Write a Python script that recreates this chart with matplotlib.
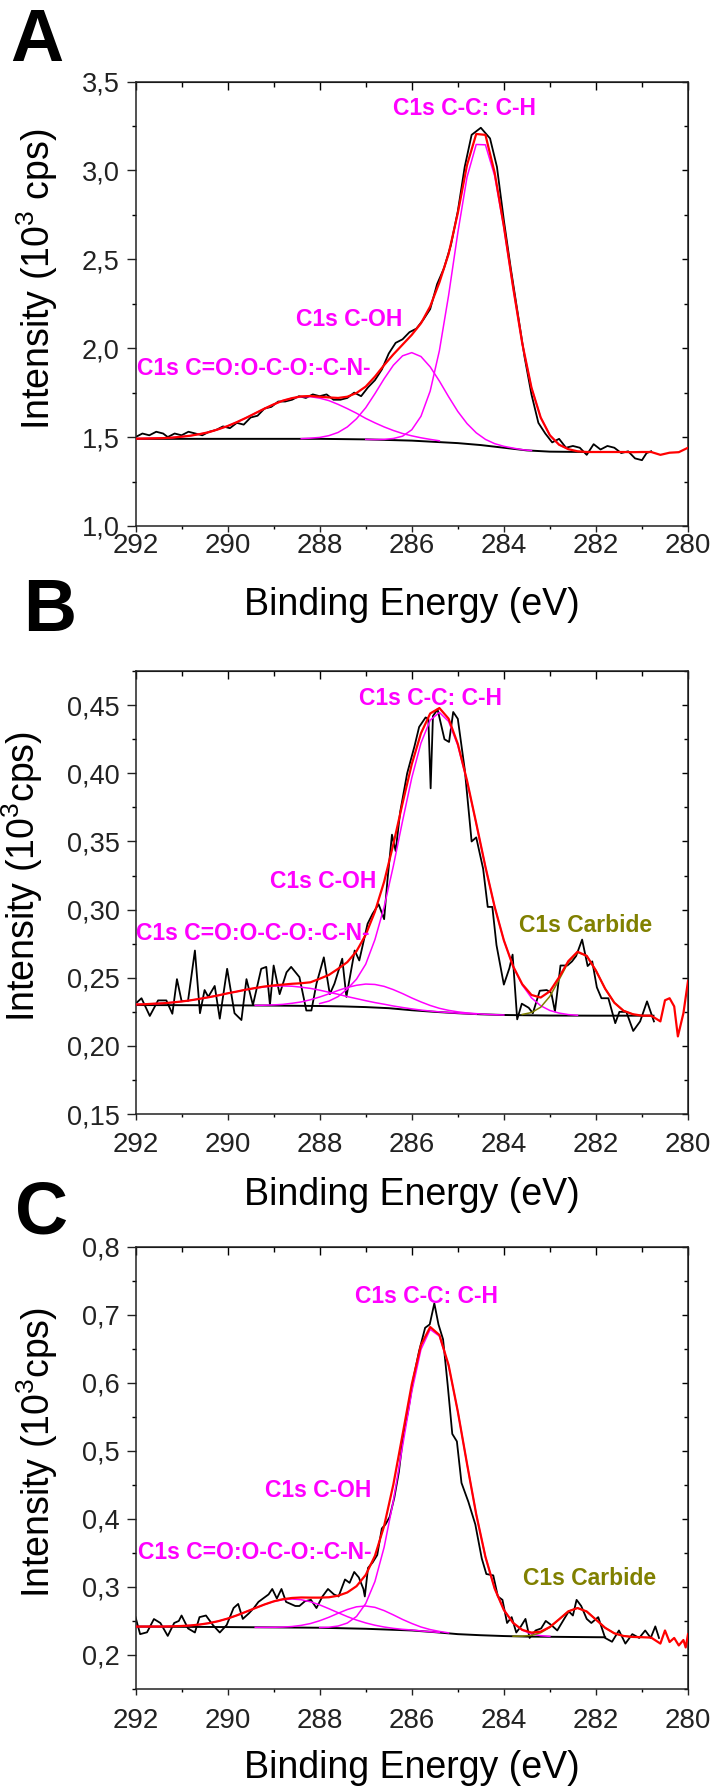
import numpy as np
import matplotlib
matplotlib.use('Agg')
import matplotlib.pyplot as plt
from matplotlib.ticker import MultipleLocator, FuncFormatter

plt.rcParams['font.family'] = ['Liberation Sans', 'DejaVu Sans']
plt.rcParams['mathtext.fontset'] = 'custom'
plt.rcParams['mathtext.rm'] = 'Liberation Sans'
plt.rcParams['mathtext.it'] = 'Liberation Sans:italic'

MAG = '#FF00FF'
OLIVE = '#808000'

# energy grid of the fitted curves (0.2 eV steps, 292 -> 280)
grid = np.round(np.arange(292.0, 279.9, -0.2), 1)

# ---------------- panel A ----------------
a_raw_e = [292.0, 291.85, 291.7, 291.55, 291.4, 291.3, 291.15, 291.0, 290.85, 290.7,
           290.55, 290.4, 290.25, 290.1, 289.95, 289.8, 289.65, 289.5, 289.35, 289.2,
           289.05, 288.9, 288.75, 288.6, 288.45, 288.3, 288.15, 288.0, 287.85, 287.7,
           287.55, 287.4, 287.25, 287.1, 286.95, 286.8, 286.65, 286.5, 286.35, 286.2,
           286.05, 285.9, 285.75, 285.6, 285.45, 285.3, 285.15, 285.0, 284.85, 284.7,
           284.6, 284.5, 284.4, 284.3, 284.15, 284.0, 283.85, 283.7, 283.55, 283.4,
           283.25, 283.1, 282.95, 282.8, 282.65, 282.5, 282.35, 282.2, 282.05, 281.9,
           281.75, 281.6, 281.45, 281.3, 281.15, 281.0, 280.9, 280.8]
a_raw_i = [1.50, 1.52, 1.51, 1.53, 1.52, 1.50, 1.52, 1.51, 1.53, 1.52,
           1.51, 1.53, 1.54, 1.56, 1.55, 1.58, 1.57, 1.61, 1.62, 1.66,
           1.67, 1.70, 1.70, 1.71, 1.73, 1.72, 1.74, 1.73, 1.74, 1.71,
           1.71, 1.72, 1.75, 1.73, 1.78, 1.82, 1.88, 1.97, 2.03, 2.05,
           2.09, 2.11, 2.16, 2.22, 2.36, 2.45, 2.58, 2.77, 3.02, 3.20,
           3.22, 3.24, 3.21, 3.18, 3.02, 2.72, 2.45, 2.20, 1.95, 1.74,
           1.58, 1.52, 1.47, 1.49, 1.44, 1.45, 1.44, 1.40, 1.46, 1.43,
           1.45, 1.44, 1.41, 1.42, 1.38, 1.37, 1.41, 1.42]
a_fit = [1.491, 1.492, 1.493, 1.494, 1.497, 1.502, 1.508, 1.517, 1.528, 1.544,
         1.562, 1.584, 1.608, 1.634, 1.660, 1.684, 1.705, 1.719, 1.729, 1.731,
         1.727, 1.723, 1.720, 1.727, 1.748, 1.784, 1.840, 1.905, 1.965, 2.020,
         2.075, 2.140, 2.235, 2.370, 2.530, 2.760, 3.030, 3.205, 3.200, 2.988,
         2.687, 2.345, 2.027, 1.778, 1.610, 1.510, 1.457, 1.432, 1.420, 1.416,
         1.416, 1.416, 1.416, 1.416, 1.415, 1.416, 1.416, 1.400, 1.412, 1.415, 1.440]
a_base_e = [292, 288, 287, 286, 285, 284.5, 284, 283.5, 283, 282.2]
a_base_i = [1.490, 1.490, 1.487, 1.480, 1.466, 1.455, 1.440, 1.425, 1.418, 1.416]
a_co = (292.0, [1.491, 1.492, 1.493, 1.494, 1.497, 1.502, 1.508, 1.517, 1.528, 1.544,
                1.562, 1.584, 1.608, 1.634, 1.660, 1.684, 1.705, 1.719, 1.727, 1.727,
                1.719, 1.705, 1.684, 1.660, 1.634, 1.605, 1.580, 1.557, 1.537, 1.520,
                1.507, 1.496, 1.487, 1.479])
a_coh = (288.4, [1.491, 1.494, 1.498, 1.508, 1.526, 1.557, 1.603, 1.665, 1.744, 1.828,
                 1.904, 1.957, 1.975, 1.953, 1.895, 1.815, 1.727, 1.644, 1.576, 1.524,
                 1.487, 1.463, 1.448, 1.438, 1.429, 1.424])
a_cc = (287.0, [1.487, 1.486, 1.487, 1.492, 1.505, 1.541, 1.617, 1.759, 1.986, 2.297,
                2.649, 2.962, 3.146, 3.144, 2.970, 2.679, 2.341, 2.026, 1.778, 1.610,
                1.510, 1.457, 1.432])

# ---------------- panel B ----------------
b_raw_e = [292.0, 291.87, 291.69, 291.51, 291.33, 291.2, 291.1, 291.0, 290.86, 290.71,
           290.6, 290.5, 290.42, 290.28, 290.17, 290.01, 289.85, 289.7, 289.59, 289.45,
           289.27, 289.16, 289.08, 289.0, 288.87, 288.72, 288.62, 288.44, 288.29, 288.18,
           288.07, 287.91, 287.78, 287.68, 287.51, 287.42, 287.24, 287.14, 286.96, 286.85,
           286.72, 286.6, 286.53, 286.43, 286.35, 286.25, 286.1, 285.94, 285.84, 285.7,
           285.64, 285.59, 285.54, 285.44, 285.29, 285.19, 285.1, 285.0, 284.85, 284.7,
           284.6, 284.45, 284.35, 284.25, 284.16, 284.0, 283.88, 283.81, 283.71, 283.61,
           283.46, 283.37, 283.22, 283.07, 282.97, 282.89, 282.77, 282.62, 282.52, 282.43,
           282.3, 282.18, 282.08, 281.98, 281.88, 281.73, 281.58, 281.49, 281.34, 281.19,
           281.04, 280.89, 280.74]
b_raw_i = [.231, .235, .222, .2334, .2334, .2236, .249, .233, .233, .270,
           .224, .241, .236, .244, .220, .2566, .224, .219, .249, .230,
           .2566, .258, .230, .259, .238, .254, .258, .2505, .226, .226,
           .2456, .265, .238, .2456, .264, .236, .270, .2627, .2896, .297,
           .304, .293, .321, .355, .343, .372, .400, .420, .434, .441,
           .440, .389, .442, .447, .425, .423, .445, .440, .403, .350,
           .353, .330, .302, .302, .274, .245, .257, .267, .2195, .231,
           .228, .224, .2405, .241, .239, .2253, .259, .259, .262, .266,
           .278, .2586, .262, .243, .235, .235, .2167, .225, .225, .211,
           .218, .2327, .218]
b_fit = [.2304, .2306, .2310, .2313, .2319, .2326, .2335, .2346, .2358, .2371,
         .2386, .2399, .2413, .2425, .2436, .2444, .2450, .2456, .2460, .2467,
         .2493, .2521, .2566, .2615, .2695, .2816, .2985, .3205, .3480, .3780,
         .4067, .4294, .4439, .4479, .4401, .4216, .3947, .3634, .3314, .3021,
         .2775, .2585, .2453, .2374, .2355, .2401, .2504, .2622, .2691, .2661,
         .2553, .2420, .2317, .2258, .2233, .2222, .2222]
b_tail_e = [280.6, 280.5, 280.4, 280.3, 280.22, 280.1, 280.0]
b_tail_i = [.218, .2335, .235, .229, .207, .224, .2476]
b_base_e = [292, 290, 289, 288, 287.5, 287, 286.5, 286, 285.5, 285, 284.5, 284, 283, 282, 280.75]
b_base_i = [.2300, .2298, .2296, .2293, .2290, .2285, .2277, .2262, .2250, .2240, .2232,
            .2227, .2223, .2222, .2222]
b_co = (292.0, [.2304, .2306, .2310, .2313, .2319, .2326, .2335, .2346, .2358, .2371,
                .2386, .2399, .2413, .2424, .2433, .2439, .2440, .2438, .2431, .2422,
                .2409, .2394, .2379, .2362, .2347, .2332, .2318, .2306, .2293, .2282,
                .2272, .2263, .2256, .2250, .2245, .2241, .2237, .2234])
b_coh = (289.4, [.2297, .2299, .2301, .2305, .2313, .2323, .2339, .2359, .2382, .2407,
                 .2429, .2445, .2454, .2451, .2437, .2413, .2384, .2352, .2323, .2297,
                 .2276, .2261, .2250, .2242, .2237, .2232, .2229, .2227])
b_cc = (288.0, [.2311, .2329, .2362, .2418, .2490, .2600, .2780, .3020, .3320, .3650,
                .3967, .4222, .4390, .4447, .4381, .4205, .3942, .3631, .3313, .3021,
                .2775, .2585, .2447, .2353, .2295, .2260, .2241, .2230, .2225])
b_carb = (283.6, [.2231, .2245, .2284, .2364, .2486, .2614, .2687, .2661, .2553, .2420,
                  .2317, .2258, .2233])

# ---------------- panel C ----------------
c_raw_e = [292.0, 291.9, 291.75, 291.6, 291.46, 291.3, 291.16, 291.06, 291.0, 290.86,
           290.71, 290.61, 290.47, 290.32, 290.17, 290.02, 289.87, 289.77, 289.67, 289.54,
           289.43, 289.33, 289.23, 289.11, 289.03, 288.93, 288.83, 288.73, 288.63, 288.53,
           288.44, 288.32, 288.19, 288.07, 287.94, 287.82, 287.69, 287.59, 287.45, 287.35,
           287.25, 287.15, 287.05, 287.02, 286.95, 286.85, 286.75, 286.65, 286.57, 286.48,
           286.38, 286.28, 286.18, 286.08, 285.96, 285.84, 285.71, 285.61, 285.51, 285.42,
           285.32, 285.22, 285.12, 285.02, 284.92, 284.77, 284.62, 284.48, 284.38, 284.23,
           284.13, 284.03, 283.93, 283.83, 283.73, 283.63, 283.53, 283.44, 283.31, 283.19,
           283.09, 282.97, 282.84, 282.69, 282.59, 282.5, 282.42, 282.32, 282.2, 282.1,
           281.95, 281.8, 281.65, 281.5, 281.36, 281.21, 281.06, 280.93, 280.81, 280.71,
           280.63]
c_raw_i = [.2556, .2306, .2333, .2528, .247, .228, .247, .25, .258, .239,
           .233, .2556, .258, .244, .233, .244, .269, .275, .253, .261,
           .269, .278, .283, .289, .297, .283, .297, .278, .275, .272,
           .272, .279, .281, .269, .286, .297, .289, .286, .311, .306,
           .322, .314, .297, .286, .328, .336, .347, .386, .392, .403,
           .431, .469, .525, .558, .608, .647, .681, .686, .717, .686,
           .664, .597, .525, .514, .453, .425, .392, .342, .319, .317,
           .286, .281, .247, .2556, .233, .242, .253, .225, .236, .239,
           .250, .244, .236, .253, .264, .258, .281, .272, .253, .247,
           .2556, .225, .2194, .236, .2167, .2306, .225, .236, .225, .242,
           .225]
c_fit = [.2417, .2418, .2418, .2418, .2421, .2426, .2434, .2448, .2468, .2497,
         .2535, .2582, .2635, .2689, .2742, .2788, .2820, .2838, .2845, .2843,
         .2843, .2848, .2871, .2919, .3011, .3177, .3457, .3897, .4506, .5239,
         .5980, .6556, .6822, .6705, .6262, .5580, .4811, .4068, .3443, .2977,
         .2662, .2472, .2369, .2329, .2342, .2412, .2524, .2641, .2690, .2639,
         .2520, .2399, .2318, .2279, .2265, .2261, .2255]
c_tail_e = [280.6, 280.5, 280.4, 280.3, 280.2, 280.1, 280.05, 280.0]
c_tail_i = [.2167, .236, .219, .225, .214, .222, .211, .2306]
c_base_e = [292, 290, 288, 287, 286, 285.5, 285, 284.5, 284, 283.5, 283, 282, 281.8]
c_base_i = [.2417, .2410, .2400, .2385, .2360, .2335, .2306, .2290, .2278, .2270, .2267,
            .2261, .2260]
c_co = (292.0, [.2417, .2418, .2418, .2418, .2421, .2426, .2434, .2448, .2468, .2497,
                .2535, .2582, .2635, .2689, .2741, .2785, .2813, .2822, .2812, .2782,
                .2736, .2680, .2621, .2564, .2513, .2471, .2437, .2411, .2391, .2377,
                .2367, .2353, .2342, .2331])
c_coh = (289.4, [.2406, .2406, .2407, .2410, .2418, .2435, .2462, .2503, .2554, .2613,
                 .2668, .2708, .2720, .2700, .2652, .2589, .2522, .2463, .2411, .2373,
                 .2346, .2325])
c_cc = (288.0, [.2404, .2408, .2425, .2469, .2566, .2756, .3080, .3584, .4266, .5070,
                .5870, .6492, .6787, .6688, .6254, .5580, .4811, .4068, .3443, .2977,
                .2662, .2471, .2364, .2310, .2284, .2273])
c_carb = (283.8, [.2276, .2277, .2289, .2326, .2406, .2524, .2641, .2690, .2639, .2520,
                  .2399, .2318, .2279, .2265, .2261])

lbl_cc = 'C1s C-C: C-H'
lbl_coh = 'C1s C-OH'
lbl_co = 'C1s C=O:O-C-O:-C-N-'
lbl_carb = 'C1s Carbide'


def span(comp):
    e0, vals = comp
    i = int(round((292.0 - e0) * 5))
    return grid[i:i + len(vals)], vals


def draw_comp(ax, comp, color=MAG):
    e, v = span(comp)
    ax.plot(e, v, color=color, lw=1.1, zorder=3)


def style(ax, ylim, ymaj, ymin, fmt, xpad):
    ax.set_xlim(292, 280)
    ax.set_ylim(*ylim)
    ax.xaxis.set_major_locator(MultipleLocator(2))
    ax.xaxis.set_minor_locator(MultipleLocator(1))
    ax.yaxis.set_major_locator(MultipleLocator(ymaj))
    ax.yaxis.set_minor_locator(MultipleLocator(ymin))
    ax.yaxis.set_major_formatter(FuncFormatter(lambda v, p: fmt.format(v).replace('.', ',')))
    ax.tick_params(axis='y', which='major', direction='out', length=6.5, width=1.0,
                   labelsize=19.5, pad=5, colors='#222222')
    ax.tick_params(axis='y', which='minor', direction='out', length=3, width=1.0)
    ax.tick_params(axis='x', which='major', direction='out', length=4.3, width=1.0,
                   labelsize=20, pad=xpad, colors='#222222')
    ax.tick_params(axis='x', which='minor', direction='out', length=2.3, width=1.0)
    for s in ax.spines.values():
        s.set_linewidth(1.1)
        s.set_color('#222222')
    top = ax.secondary_xaxis('top')
    top.xaxis.set_major_locator(MultipleLocator(2))
    top.xaxis.set_minor_locator(MultipleLocator(1))
    top.tick_params(which='major', direction='in', length=6, width=1.0, labeltop=False)
    top.tick_params(which='minor', direction='in', length=3.5, width=1.0)
    right = ax.secondary_yaxis('right')
    right.yaxis.set_major_locator(MultipleLocator(ymaj))
    right.yaxis.set_minor_locator(MultipleLocator(ymin))
    right.tick_params(which='major', direction='in', length=4.5, width=1.0, labelright=False)
    right.tick_params(which='minor', direction='in', length=3, width=1.0)


fig = plt.figure(figsize=(7.14, 17.92), dpi=100)
L, W = 0.1898, 0.7738
axA = fig.add_axes([L, 0.7065, W, 0.2480])
axB = fig.add_axes([L, 0.3783, W, 0.2472])
axC = fig.add_axes([L, 0.0575, W, 0.2467])

# A
axA.plot(a_raw_e, a_raw_i, color='black', lw=1.3, zorder=2)
axA.plot(a_base_e, a_base_i, color='black', lw=1.4, zorder=2)
for comp in (a_co, a_coh, a_cc):
    draw_comp(axA, comp)
axA.plot(grid, a_fit, color='red', lw=1.6, zorder=4)
style(axA, (1.0, 3.5), 0.5, 0.25, '{:.1f}', 1)
axA.text(284.85, 3.35, lbl_cc, color=MAG, fontsize=16.5, fontweight='bold', ha='center', va='center', zorder=5)
axA.text(287.35, 2.16, lbl_coh, color=MAG, fontsize=16.5, fontweight='bold', ha='center', va='center', zorder=5)
axA.text(291.97, 1.888, lbl_co, color=MAG, fontsize=16.5, fontweight='bold', ha='left', va='center', zorder=5)
axA.set_ylabel(r'Intensity (10$^{3}$ cps)', fontsize=27)
axA.yaxis.set_label_coords(-0.1774, 0.556)

# B
axB.plot(b_raw_e, b_raw_i, color='black', lw=1.3, zorder=2)
axB.plot(b_base_e, b_base_i, color='black', lw=1.4, zorder=2)
for comp in (b_co, b_coh, b_cc):
    draw_comp(axB, comp)
draw_comp(axB, b_carb, OLIVE)
axB.plot(np.r_[grid[:len(b_fit)], b_tail_e], np.r_[b_fit, b_tail_i], color='red', lw=1.6, zorder=4)
style(axB, (0.15, 0.475), 0.05, 0.025, '{:.2f}', 8.5)
axB.text(285.59, 0.4547, lbl_cc, color=MAG, fontsize=16.5, fontweight='bold', ha='center', va='center', zorder=5)
axB.text(287.92, 0.3207, lbl_coh, color=MAG, fontsize=16.5, fontweight='bold', ha='center', va='center', zorder=5)
axB.text(292.0, 0.2828, lbl_co, color=MAG, fontsize=16.5, fontweight='bold', ha='left', va='center', zorder=5)
axB.text(282.22, 0.2884, lbl_carb, color=OLIVE, fontsize=16.5, fontweight='bold', ha='center', va='center', zorder=5)
axB.set_ylabel(r'Intensity (10$^{3}$cps)', fontsize=27)
axB.yaxis.set_label_coords(-0.2054, 0.537)

# C
axC.plot(c_raw_e, c_raw_i, color='black', lw=1.3, zorder=2)
axC.plot(c_base_e, c_base_i, color='black', lw=1.4, zorder=2)
for comp in (c_co, c_coh, c_cc):
    draw_comp(axC, comp)
draw_comp(axC, c_carb, OLIVE)
axC.plot(np.r_[grid[:len(c_fit)], c_tail_e], np.r_[c_fit, c_tail_i], color='red', lw=1.6, zorder=4)
style(axC, (0.15, 0.8), 0.1, 0.05, '{:.1f}', 9.4)
axC.text(285.69, 0.7275, lbl_cc, color=MAG, fontsize=16.5, fontweight='bold', ha='center', va='center', zorder=5)
axC.text(288.04, 0.4416, lbl_coh, color=MAG, fontsize=16.5, fontweight='bold', ha='center', va='center', zorder=5)
axC.text(291.95, 0.35, lbl_co, color=MAG, fontsize=16.5, fontweight='bold', ha='left', va='center', zorder=5)
axC.text(282.14, 0.3124, lbl_carb, color=OLIVE, fontsize=16.5, fontweight='bold', ha='center', va='center', zorder=5)
axC.set_ylabel(r'Intensity (10$^{3}$cps)', fontsize=27)
axC.yaxis.set_label_coords(-0.1774, 0.534)

for ax, ly in ((axA, -0.178), (axB, -0.183), (axC, -0.179)):
    ax.set_xlabel('Binding Energy (eV)', fontsize=27)
    ax.xaxis.set_label_coords(0.5, ly)
    ax.xaxis.label.set_va('center')
    ax.yaxis.label.set_va('center')

fig.text(0.014, 0.966, 'A', fontsize=53, fontweight='bold', va='baseline')
fig.text(0.032, 0.6479, 'B', fontsize=53, fontweight='bold', va='baseline')
fig.text(0.021, 0.3114, 'C', fontsize=53, fontweight='bold', va='baseline')

fig.savefig('out.png', dpi=100)
